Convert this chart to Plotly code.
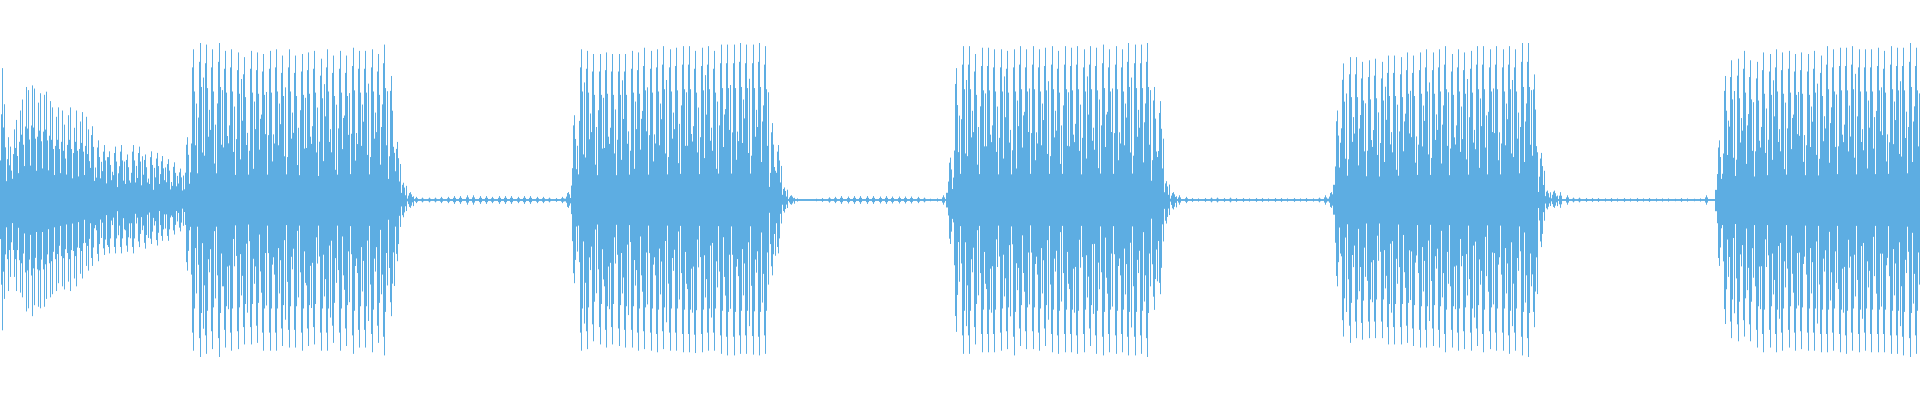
import numpy as np
import plotly.graph_objects as go

# ---- data: peak amplitudes (fraction of full scale) of each waveform pulse ----
# x unit = sample column (0..1919); each segment lists pulse peaks above (top) and below (bot) zero.
seg_names = ["burst1a", "burst1b", "burst2", "quiet1", "burst3", "quiet2",
             "burst4", "quiet3", "burst5", "quiet4", "burst6"]
seg_start = [1.5, 91.7, 186.9, 415.9, 567.9, 796.9, 949.9, 1179.2, 1330.6, 1560.2, 1718.6]
seg_step = [3.0, 5.9, 6.37, 6.36, 6.37, 6.36, 6.37, 6.36, 6.37, 6.36, 6.37]
seg_kind = ["dense", "loud", "loud", "quiet", "loud", "quiet", "loud", "quiet", "loud", "quiet", "loud"]

burst1a_top = [0.84, 0.61, 0.40, 0.34, 0.45, 0.51, 0.57, 0.64, 0.72, 0.70, 0.73, 0.71, 0.62, 0.68, 0.67,
               0.69, 0.63, 0.59, 0.53, 0.59, 0.57, 0.48, 0.54, 0.59, 0.46, 0.57, 0.50, 0.56, 0.53, 0.45]
burst1a_bot = [0.83, 0.63, 0.58, 0.49, 0.49, 0.58, 0.59, 0.62, 0.71, 0.69, 0.74, 0.67, 0.68, 0.69, 0.68,
               0.63, 0.62, 0.60, 0.58, 0.53, 0.55, 0.57, 0.52, 0.58, 0.50, 0.55, 0.47, 0.50, 0.42, 0.45]
burst1b_top = [0.47, 0.38, 0.35, 0.31, 0.34, 0.35, 0.29, 0.35, 0.34, 0.29, 0.31, 0.30, 0.28, 0.26, 0.24, 0.20]
burst1b_bot = [0.42, 0.39, 0.35, 0.34, 0.34, 0.34, 0.33, 0.34, 0.30, 0.31, 0.28, 0.29, 0.26, 0.26, 0.22, 0.20]

burst2_top = [0.40, 0.96, 1.00, 0.99, 0.96, 1.00, 0.95, 0.96, 0.94, 0.91, 0.95, 0.94, 0.93, 0.95, 0.96, 0.92,
              0.96, 0.92, 0.93, 0.94, 0.95, 0.90, 0.96, 0.92, 0.95, 0.92, 0.97, 0.95, 0.95, 0.96, 0.93, 0.99,
              0.79, 0.37, 0.11, 0.05]
burst2_bot = [0.45, 0.96, 1.00, 0.98, 0.95, 1.00, 0.94, 0.96, 0.95, 0.92, 0.92, 0.91, 0.96, 0.96, 0.96, 0.93,
              0.94, 0.94, 0.96, 0.93, 0.92, 0.96, 0.96, 0.91, 0.96, 0.93, 0.98, 0.94, 0.94, 0.97, 0.91, 0.99,
              0.74, 0.39, 0.11, 0.05]

burst3_top = [0.05, 0.54, 0.96, 0.95, 0.93, 0.93, 0.94, 0.93, 0.93, 0.93, 0.95, 0.94, 0.97, 0.95, 0.96, 0.98,
              0.96, 0.97, 0.98, 0.98, 0.95, 0.97, 0.98, 0.95, 0.99, 0.99, 0.99, 1.00, 0.99, 0.99, 1.00, 0.98,
              0.49, 0.35, 0.08, 0.03]
burst3_bot = [0.05, 0.53, 0.96, 0.95, 0.90, 0.92, 0.94, 0.92, 0.93, 0.94, 0.94, 0.96, 0.95, 0.96, 0.97, 0.95,
              0.96, 0.96, 0.97, 0.97, 0.975, 0.97, 0.96, 0.96, 0.98, 0.99, 0.99, 0.98, 0.98, 0.985, 0.99, 0.98,
              0.48, 0.34, 0.08, 0.03]

burst4_top = [0.27, 0.84, 0.98, 0.98, 0.93, 0.97, 0.97, 0.96, 0.96, 0.95, 0.96, 0.98, 0.96, 0.98, 0.96, 0.97,
              0.98, 0.95, 0.98, 0.97, 0.98, 0.96, 0.98, 0.97, 0.99, 0.96, 0.98, 0.96, 1.00, 0.99, 0.99, 1.00,
              0.72, 0.63, 0.12, 0.05]
burst4_bot = [0.28, 0.84, 0.98, 0.98, 0.92, 0.97, 0.97, 0.97, 0.96, 0.95, 0.99, 0.93, 0.95, 0.95, 0.96, 0.93,
              0.97, 0.98, 0.97, 0.97, 0.98, 0.97, 0.93, 0.98, 0.99, 0.97, 0.98, 0.97, 0.99, 0.99, 0.98, 1.00,
              0.70, 0.60, 0.15, 0.06]

burst5_top = [0.05, 0.57, 0.87, 0.91, 0.91, 0.88, 0.89, 0.90, 0.88, 0.92, 0.92, 0.91, 0.94, 0.92, 0.94, 0.96,
              0.94, 0.96, 0.98, 0.93, 0.96, 0.94, 0.95, 0.98, 0.98, 0.96, 0.98, 0.96, 0.98, 0.96, 1.00, 1.00,
              0.80, 0.30, 0.06, 0.06]
burst5_bot = [0.05, 0.55, 0.87, 0.91, 0.88, 0.89, 0.88, 0.88, 0.88, 0.92, 0.92, 0.92, 0.91, 0.93, 0.94, 0.94,
              0.93, 0.94, 0.97, 0.94, 0.96, 0.95, 0.96, 0.93, 0.97, 0.95, 0.96, 0.96, 0.98, 0.96, 0.99, 1.00,
              0.81, 0.30, 0.06, 0.05]

burst6_top = [0.38, 0.79, 0.89, 0.90, 0.95, 0.89, 0.88, 0.94, 0.93, 0.96, 0.94, 0.95, 0.93, 0.94, 0.93, 0.95,
              0.92, 0.98, 0.96, 0.97, 0.97, 0.98, 0.96, 0.96, 0.96, 0.97, 0.95, 0.98, 0.97, 0.97, 1.00, 0.97]
burst6_bot = [0.42, 0.79, 0.88, 0.90, 0.87, 0.90, 0.94, 0.97, 0.94, 0.97, 0.96, 0.94, 0.96, 0.95, 0.96, 0.96,
              0.97, 0.97, 0.96, 0.97, 0.98, 0.96, 0.97, 0.96, 0.97, 0.97, 0.97, 0.98, 0.98, 0.99, 1.00, 0.98]

quiet1_amp = [0.020, 0.015, 0.015, 0.015, 0.020, 0.020, 0.025, 0.025, 0.030, 0.030, 0.025, 0.025,
              0.020, 0.025, 0.025, 0.025, 0.020, 0.025, 0.025, 0.020, 0.020, 0.015, 0.012, 0.020]
quiet2_amp = [0.010, 0.006, 0.006, 0.008, 0.012, 0.017, 0.020, 0.025, 0.022, 0.025, 0.025, 0.025,
              0.025, 0.022, 0.025, 0.022, 0.022, 0.022, 0.022, 0.020, 0.015, 0.008, 0.010, 0.030]
quiet3_amp = [0.030, 0.020, 0.012, 0.010, 0.012, 0.015, 0.015, 0.012, 0.015, 0.012, 0.012, 0.010,
              0.012, 0.012, 0.010, 0.012, 0.012, 0.010, 0.012, 0.010, 0.012, 0.010, 0.015, 0.030]
quiet4_amp = [0.050, 0.030, 0.015, 0.015, 0.012, 0.012, 0.012, 0.010, 0.012, 0.010, 0.012, 0.010,
              0.012, 0.010, 0.012, 0.010, 0.010, 0.010, 0.008, 0.012, 0.010, 0.008, 0.010, 0.030]

# relative heights of the secondary (in-between) pulses, read from the loud bursts
mid_pulse_ratio = [0.44, 0.64, 0.78, 0.58, 0.50, 0.70, 0.38, 0.62, 0.82, 0.47, 0.66, 0.55, 0.74]

seg_top = [burst1a_top, burst1b_top, burst2_top, quiet1_amp, burst3_top, quiet2_amp,
           burst4_top, quiet3_amp, burst5_top, quiet4_amp, burst6_top]
seg_bot = [burst1a_bot, burst1b_bot, burst2_bot, quiet1_amp, burst3_bot, quiet2_amp,
           burst4_bot, quiet3_amp, burst5_bot, quiet4_amp, burst6_bot]

# ---- rendering style ----
N_COLS = 1920
COLOR = "#5DADE2"
PULSE_SHAPE = {
    "dense": {-1: 0.65, 0: 1.0, 1: 0.55},
    "loud": {-1: 0.88, 0: 1.0, 1: 0.72},
    "quiet": {-1: 0.55, 0: 1.0, 1: 0.55},
}
# loud pulses: extra columns whose height follows the secondary-pulse ratios
# (column offset, phase into mid_pulse_ratio, scale)
LOUD_EXTRA = [(-2, 3, 0.75), (2, 9, 0.55), (3, 0, 1.0)]
CORE = {"dense": 0.30, "loud": 0.17, "quiet": 0.0}
FLOOR = 0.006

top = np.full(N_COLS, FLOOR)
bot = np.full(N_COLS, FLOOR)


def raise_col(c, vt, vb):
    if 0 <= c < N_COLS:
        top[c] = max(top[c], vt)
        bot[c] = max(bot[c], vb)


n_mid = len(mid_pulse_ratio)
for start, step, kind, tops, bots in zip(seg_start, seg_step, seg_kind, seg_top, seg_bot):
    shape = PULSE_SHAPE[kind]
    core = CORE[kind]
    for i, (ht, hb) in enumerate(zip(tops, bots)):
        p = start + i * step
        for c in range(int(np.floor(p - step / 2)), int(np.ceil(p + step / 2))):
            raise_col(c, core * ht, core * hb)
        c0 = int(round(p))
        for off, k in shape.items():
            raise_col(c0 + off, k * ht, k * hb)
        if kind == "loud":
            for off, phase, scale in LOUD_EXTRA:
                rt = mid_pulse_ratio[(i + phase) % n_mid] * scale
                rb = mid_pulse_ratio[(i + phase + 6) % n_mid] * scale
                raise_col(c0 + off, rt * ht, rb * hb)

xs, ys = [], []
for c in range(N_COLS):
    xs += [c, c, None]
    ys += [-bot[c], top[c], None]

fig = go.Figure(go.Scatter(x=xs, y=ys, mode="lines",
                           line=dict(color=COLOR, width=1), hoverinfo="skip"))
fig.update_layout(
    width=1920, height=400,
    margin=dict(l=0, r=0, t=0, b=0),
    paper_bgcolor="white", plot_bgcolor="white",
    showlegend=False,
    xaxis=dict(range=[-0.5, N_COLS - 0.5], visible=False, fixedrange=True),
    yaxis=dict(range=[-1.274, 1.274], visible=False, fixedrange=True),
)
fig.write_html("out.html", config={"displayModeBar": False},
               post_script="document.body.style.margin='0';document.body.style.overflow='hidden';")
